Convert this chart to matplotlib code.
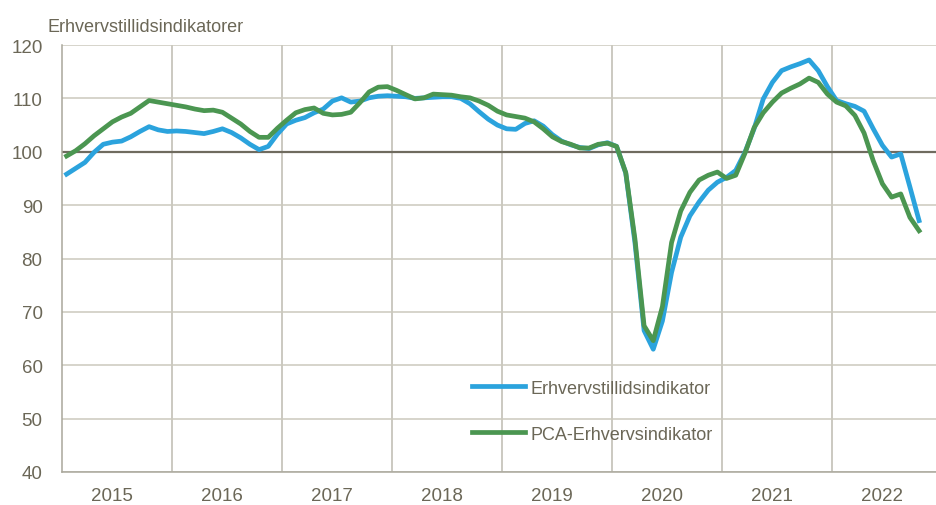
import numpy as np
import matplotlib
matplotlib.use('Agg')
import matplotlib.pyplot as plt
from matplotlib import font_manager

# monthly values, Jan 2015 - Oct 2022
erhverv = [
    95.8, 96.9, 98.0, 99.9, 101.4, 101.8, 102.0, 102.8, 103.8, 104.7, 104.1, 103.8,
    103.9, 103.8, 103.6, 103.4, 103.8, 104.3, 103.6, 102.6, 101.4, 100.4, 101.0, 103.3,
    105.2, 105.9, 106.4, 107.3, 108.0, 109.5, 110.1, 109.3, 109.5, 110.1, 110.4, 110.5,
    110.4, 110.3, 110.0, 110.1, 110.2, 110.3, 110.3, 110.0, 109.0, 107.5, 106.1, 105.0,
    104.3, 104.2, 105.3, 105.8, 104.8, 103.2, 102.0, 101.3, 100.8, 100.6, 101.3, 101.7,
    101.0, 96.0, 83.0, 66.5, 63.0, 68.3, 77.4, 84.0, 88.0, 90.6, 92.8, 94.3,
    95.2, 96.5, 99.9, 104.3, 109.9, 113.0, 115.2, 115.9, 116.5, 117.2, 115.2, 112.2,
    109.6, 109.0, 108.5, 107.6, 104.3, 101.2, 99.0, 99.6, 93.4, 87.1,
]
pca = [
    99.2, 100.2, 101.5, 103.0, 104.3, 105.6, 106.5, 107.2, 108.4, 109.6, 109.3, 109.0,
    108.7, 108.4, 108.0, 107.7, 107.8, 107.4, 106.3, 105.2, 103.8, 102.7, 102.7, 104.4,
    105.9, 107.3, 107.9, 108.2, 107.2, 106.9, 107.0, 107.4, 109.2, 111.2, 112.1, 112.2,
    111.5, 110.7, 109.9, 110.1, 110.8, 110.7, 110.6, 110.3, 110.1, 109.5, 108.7, 107.6,
    106.9, 106.6, 106.3, 105.6, 104.3, 102.8, 101.9, 101.4, 100.7, 100.7, 101.4, 101.6,
    101.0, 96.1, 83.7, 67.4, 64.6, 71.0, 83.0, 88.9, 92.4, 94.7, 95.6, 96.2,
    95.0, 95.6, 99.7, 104.5, 107.3, 109.3, 111.0, 111.9, 112.7, 113.8, 113.0, 110.8,
    109.3, 108.6, 106.8, 103.5, 98.3, 94.0, 91.5, 92.1, 87.7, 85.2,
]
years = [2015, 2016, 2017, 2018, 2019, 2020, 2021, 2022]
yticks = [40, 50, 60, 70, 80, 90, 100, 110, 120]

names = {f.name for f in font_manager.fontManager.ttflist}
fam = 'Liberation Sans Narrow' if 'Liberation Sans Narrow' in names else 'Liberation Sans'
plt.rcParams['font.family'] = [fam, 'DejaVu Sans']

txt = '#6b6757'
blue = '#2ba3dd'
green = '#4b9651'

x = 2015 + (np.arange(len(erhverv)) + 0.5) / 12

fig = plt.figure(figsize=(9.37, 5.06), dpi=100)
ax = fig.add_axes([62 / 937, 33 / 506, 875 / 937, 427 / 506])

ax.plot(x, erhverv, color=blue, lw=3.4, label='Erhvervstillidsindikator',
        solid_joinstyle='round', zorder=3)
ax.plot(x, pca, color=green, lw=3.4, label='PCA-Erhvervsindikator',
        solid_joinstyle='round', zorder=4)

ax.set_xlim(2015, 2015 + 875 / 110)
ax.set_ylim(40, 120)
ax.set_yticks(yticks)
ax.set_xticks([y + 0.455 for y in years])
ax.set_xticklabels([str(y) for y in years])
ax.set_xticks(years[1:], minor=True)

ax.grid(axis='y', color='#cbc9bd', lw=1.1)
ax.grid(axis='x', which='minor', color='#bdbbb0', lw=1.1)
ax.grid(axis='x', which='major', visible=False)
ax.axhline(100, color='#6f6b5f', lw=1.6, zorder=2)
ax.set_axisbelow(True)

ax.tick_params(axis='both', which='both', length=0, labelsize=13.5, labelcolor=txt)
ax.tick_params(axis='y', pad=14)
ax.tick_params(axis='x', pad=11)

for s in ['top', 'right']:
    ax.spines[s].set_visible(False)
for s in ['left', 'bottom']:
    ax.spines[s].set_color('#a9a79b')
    ax.spines[s].set_linewidth(1.1)

fig.text(48 / 937, 1 - 32 / 506, 'Erhvervstillidsindikatorer', fontsize=13,
         color=txt, va='baseline', ha='left')

ax.legend(frameon=False, loc='upper left', bbox_to_anchor=(0.469, 0.216),
          borderaxespad=0, borderpad=0, handlelength=2.9, handletextpad=0.3,
          labelspacing=1.6, fontsize=13, labelcolor=txt)

fig.savefig('out.png', dpi=100)
